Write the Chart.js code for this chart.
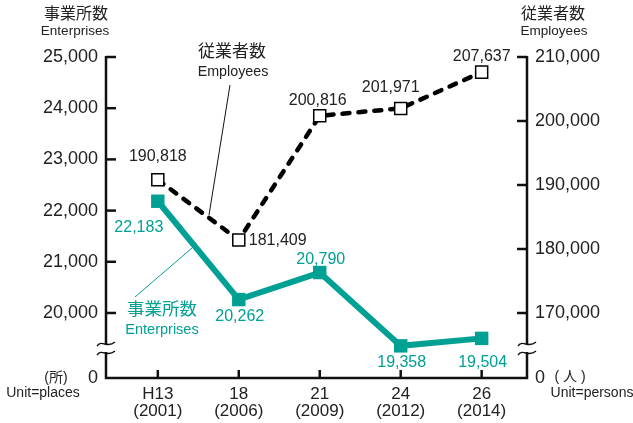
<!DOCTYPE html>
<html>
<head>
<meta charset="utf-8">
<script src="https://cdn.jsdelivr.net/npm/chart.js@4.4.1/dist/chart.umd.min.js"></script>
<style>
  html, body { margin: 0; padding: 0; background: #fff; }
  #wrap { width: 633px; height: 423px; }
</style>
</head>
<body>
<div id="wrap"><canvas id="c" width="633" height="423"></canvas></div>
<script>
// ---- data ----
const categories = [["H13", "(2001)"], ["18", "(2006)"], ["21", "(2009)"], ["24", "(2012)"], ["26", "(2014)"]];
const enterprises = [22183, 20262, 20790, 19358, 19504];
const employees = [190818, 181409, 200816, 201971, 207637];
const leftTicks = [20000, 21000, 22000, 23000, 24000, 25000];
const rightTicks = [170000, 180000, 190000, 200000, 210000];
const leftMin = 18730, leftMax = 25000;
const rightMin = 159844, rightMax = 210000;

const TEAL = '#00a094';
const LATIN = '"Liberation Sans", Arial, "Noto Sans CJK JP", sans-serif';
const fmt = v => v.toLocaleString('en-US');

function txt(ctx, s, x, y, size, color, align) {
  ctx.save();
  ctx.font = size + 'px ' + LATIN;
  ctx.fillStyle = color || '#222';
  ctx.textAlign = align || 'center';
  ctx.textBaseline = 'middle';
  ctx.fillText(s, x, y);
  ctx.restore();
}

function wave(ctx, x0, x1, y) {
  ctx.beginPath();
  const w = x1 - x0;
  ctx.moveTo(x0, y + 2);
  ctx.bezierCurveTo(x0 + w * 0.3, y - 5, x0 + w * 0.55, y + 5, x1, y - 2);
  ctx.stroke();
}

const axesPlugin = {
  id: 'axesPlugin',
  beforeDatasetsDraw(chart) {
    const ctx = chart.ctx, a = chart.chartArea;
    const x = chart.scales.x, yl = chart.scales.yL, yr = chart.scales.yR;
    ctx.save();
    ctx.strokeStyle = '#111';
    ctx.lineWidth = 2.5;
    ctx.lineCap = 'butt';
    ctx.beginPath();
    ctx.moveTo(a.left, a.top - 1); ctx.lineTo(a.left, a.bottom);
    ctx.lineTo(a.right, a.bottom); ctx.lineTo(a.right, a.top - 1);
    ctx.stroke();
    leftTicks.forEach(v => {
      const py = yl.getPixelForValue(v);
      ctx.beginPath(); ctx.moveTo(a.left, py); ctx.lineTo(a.left + 10, py); ctx.stroke();
    });
    rightTicks.forEach(v => {
      const py = yr.getPixelForValue(v);
      ctx.beginPath(); ctx.moveTo(a.right, py); ctx.lineTo(a.right - 10, py); ctx.stroke();
    });
    categories.forEach((c, i) => {
      const px = x.getPixelForValue(i);
      ctx.beginPath(); ctx.moveTo(px, a.bottom); ctx.lineTo(px, a.bottom - 8); ctx.stroke();
    });
    const yb1 = 344, yb2 = 353;
    [a.left, a.right].forEach(ax => {
      ctx.fillStyle = '#fff';
      ctx.fillRect(ax - 3, yb1 + 1, 6, yb2 - yb1 - 2);
      ctx.strokeStyle = '#111';
      ctx.lineWidth = 1.4;
      wave(ctx, ax - 9, ax + 9, yb1);
      wave(ctx, ax - 9, ax + 9, yb2);
    });
    ctx.restore();
  },
  afterDatasetsDraw(chart) {
    const ctx = chart.ctx;
    const x = chart.scales.x, yl = chart.scales.yL, yr = chart.scales.yR;
    txt(ctx, '事業所数', 76, 15, 16, '#222');
    txt(ctx, 'Enterprises', 75, 31, 13.5, '#222');
    txt(ctx, '従業者数', 553, 15, 16, '#222');
    txt(ctx, 'Employees', 554, 31, 13.5, '#222');
    txt(ctx, '(所)', 56, 378, 14, '#222');
    txt(ctx, 'Unit=places', 43, 393, 14, '#222');
    txt(ctx, '( 人 )', 570, 377, 14, '#222');
    txt(ctx, 'Unit=persons', 592, 393, 14, '#222');

    ctx.save();
    ctx.strokeStyle = '#111'; ctx.lineWidth = 1;
    ctx.beginPath(); ctx.moveTo(230, 85); ctx.lineTo(209, 215); ctx.stroke();
    ctx.strokeStyle = TEAL;
    ctx.beginPath(); ctx.moveTo(135, 297); ctx.lineTo(192, 248); ctx.stroke();
    ctx.restore();
    txt(ctx, '従業者数', 232, 52, 17, '#222');
    txt(ctx, 'Employees', 233, 72, 14.3, '#222');
    txt(ctx, '事業所数', 162, 310, 17.5, TEAL);
    txt(ctx, 'Enterprises', 162, 330, 14.5, TEAL);

    const empOff = [[0, -23, 'center'], [10, 1, 'left'], [-2, -15, 'center'], [-10, -21, 'center'], [0, -16, 'center']];
    employees.forEach((v, i) => {
      const px = x.getPixelForValue(i), py = yr.getPixelForValue(v);
      const o = empOff[i];
      txt(ctx, fmt(v), px + o[0], py + o[1], 16, '#222', o[2]);
    });
    const entOff = [[-19, 26], [1, 17], [1, -13], [1, 17], [1, 24]];
    enterprises.forEach((v, i) => {
      const px = x.getPixelForValue(i), py = yl.getPixelForValue(v);
      const o = entOff[i];
      txt(ctx, fmt(v), px + o[0], py + o[1], 16, TEAL, 'center');
    });
  }
};

new Chart(document.getElementById('c'), {
  type: 'line',
  data: {
    datasets: [
      {
        label: 'Employees',
        yAxisID: 'yR',
        data: employees.map((v, i) => ({ x: i, y: v })),
        borderColor: '#000',
        borderWidth: 4.5,
        borderDash: [7, 9],
        borderCapStyle: 'round',
        pointStyle: 'rect',
        pointRadius: 8.5,
        pointBackgroundColor: '#fff',
        pointBorderColor: '#000',
        pointBorderWidth: 1.5,
        tension: 0,
        order: 1
      },
      {
        label: 'Enterprises',
        yAxisID: 'yL',
        data: enterprises.map((v, i) => ({ x: i, y: v })),
        borderColor: TEAL,
        borderWidth: 6,
        pointStyle: 'rect',
        pointRadius: 9.5,
        pointBackgroundColor: TEAL,
        pointBorderColor: TEAL,
        pointBorderWidth: 0,
        tension: 0,
        order: 2
      }
    ]
  },
  options: {
    responsive: false,
    animation: false,
    layout: { padding: { top: 57, left: 0, right: 0, bottom: 0 }, autoPadding: false },
    plugins: { legend: { display: false }, tooltip: { enabled: false } },
    scales: {
      x: {
        type: 'linear',
        min: -0.64, max: 4.56,
        grid: { display: false }, border: { display: false },
        afterBuildTicks: s => { s.ticks = categories.map((c, i) => ({ value: i })); },
        afterFit: s => { s.height = 45; },
        ticks: {
          autoSkip: false, maxRotation: 0, padding: 0,
          color: '#222', font: { size: 17, family: LATIN, lineHeight: 1.0 },
          callback: v => categories[v]
        }
      },
      yL: {
        type: 'linear', position: 'left',
        min: leftMin, max: leftMax,
        grid: { display: false }, border: { display: false },
        afterBuildTicks: s => { s.ticks = [leftMin].concat(leftTicks).map(v => ({ value: v })); },
        afterFit: s => { s.width = 106; },
        ticks: {
          padding: 0, color: '#222', font: { size: 18, family: LATIN },
          callback: v => v === leftMin ? '0' : fmt(v)
        }
      },
      yR: {
        type: 'linear', position: 'right',
        min: rightMin, max: rightMax,
        grid: { display: false }, border: { display: false },
        afterBuildTicks: s => { s.ticks = [rightMin].concat(rightTicks).map(v => ({ value: v })); },
        afterFit: s => { s.width = 106; },
        ticks: {
          padding: 0, color: '#222', font: { size: 18, family: LATIN },
          callback: v => v === rightMin ? '0' : fmt(v)
        }
      }
    }
  },
  plugins: [axesPlugin]
});
</script>
</body>
</html>
